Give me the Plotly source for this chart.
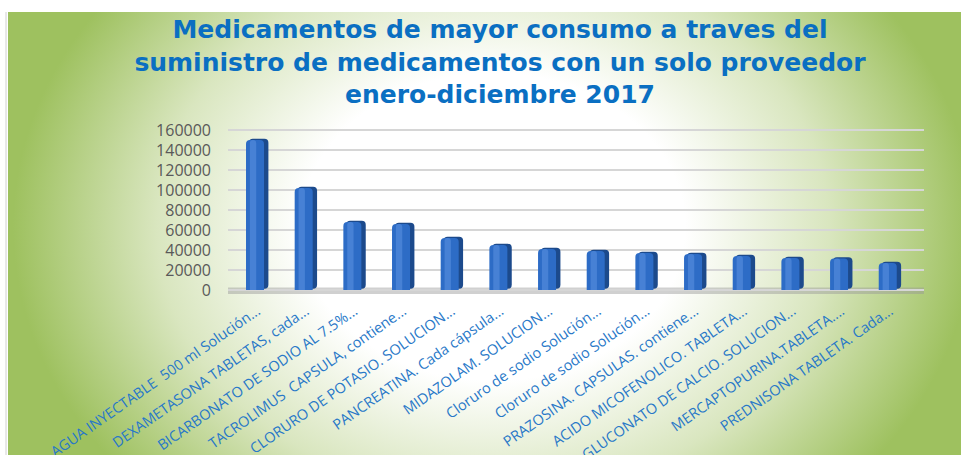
import base64
import plotly.graph_objects as go

# Consumption of the top medicines (single supplier), Jan-Dec 2017
labels = [
    "AGUA INYECTABLE  500 ml Solución...",
    "DEXAMETASONA TABLETAS, cada...",
    "BICARBONATO DE SODIO AL 7.5%...",
    "TACROLIMUS  CAPSULA, contiene...",
    "CLORURO DE POTASIO. SOLUCION...",
    "PANCREATINA. Cada cápsula...",
    "MIDAZOLAM. SOLUCION...",
    "Cloruro de sodio Solución...",
    "Cloruro de sodio Solución...",
    "PRAZOSINA. CAPSULAS. contiene...",
    "ACIDO MICOFENOLICO. TABLETA...",
    "GLUCONATO DE CALCIO. SOLUCION...",
    "MERCAPTOPURINA.TABLETA....",
    "PREDNISONA TABLETA. Cada...",
]
consumo = [150000, 102000, 68000, 66000, 52000, 45000, 41000,
           39000, 37000, 36000, 34000, 32000, 31500, 27000]
y_ticks = [0, 20000, 40000, 60000, 80000, 100000, 120000, 140000, 160000]
y_tick_text = [str(v) for v in y_ticks]

W, H = 961, 455
L, R, T, B = 228, 37, 125, 161
positions = list(range(len(labels)))

# radial white-to-green backdrop
bg_w, bg_h = W - 8, H - 12
svg = f'''<svg xmlns="http://www.w3.org/2000/svg" width="{bg_w}" height="{bg_h}" viewBox="0 0 {bg_w} {bg_h}" preserveAspectRatio="none">
<defs><radialGradient id="g" gradientUnits="userSpaceOnUse" cx="0" cy="0" r="480"
 gradientTransform="translate(485,215) scale(1,0.8)">
<stop offset="0" stop-color="#ffffff"/><stop offset="0.4" stop-color="#ffffff"/>
<stop offset="0.7" stop-color="#d9e6bf"/><stop offset="1" stop-color="#9ec15f"/>
</radialGradient></defs>
<rect width="{bg_w}" height="{bg_h}" fill="url(#g)"/></svg>'''
bg_src = "data:image/svg+xml;base64," + base64.b64encode(svg.encode()).decode()

pw, ph = W - L - R, H - T - B

fig = go.Figure()
# darker right-hand face of each column
fig.add_trace(go.Bar(
    x=positions, y=consumo, base=1200, offset=-0.17, width=0.40,
    marker=dict(color="#1c4a8c", cornerradius=4, line=dict(width=0)),
    hoverinfo="skip", showlegend=False,
))
# front face
fig.add_trace(go.Bar(
    x=positions, y=consumo, offset=-0.23, width=0.37,
    marker=dict(color="#2d6cc6", cornerradius=4, line=dict(width=0)),
    showlegend=False,
))
# soft highlight on the front face
fig.add_trace(go.Bar(
    x=positions, y=consumo, offset=-0.15, width=0.13,
    marker=dict(color="rgba(120,170,240,0.35)", cornerradius=3, line=dict(width=0)),
    hoverinfo="skip", showlegend=False,
))

fig.update_layout(
    width=W, height=H,
    margin=dict(l=L, r=R, t=T, b=B, pad=0, autoexpand=False),
    barmode="overlay",
    paper_bgcolor="white",
    plot_bgcolor="rgba(0,0,0,0)",
    font=dict(family="Open Sans", color="#595959"),
    title=dict(
        text="Medicamentos de mayor consumo a traves del<br>"
             "suministro de medicamentos con un solo proveedor<br>"
             "enero-diciembre 2017",
        font=dict(family="DejaVu Sans", size=25, color="#0a6fc2", weight=700),
        x=500 / W, xanchor="center", xref="container",
        y=1 - 38 / H, yanchor="top", yref="container",
    ),
    xaxis=dict(
        range=[-0.6, 13.7], automargin=False,
        tickmode="array", tickvals=positions, ticktext=labels,
        tickangle=-35, ticks="", showgrid=False, zeroline=False,
        showline=False, ticklabelstandoff=5,
        tickfont=dict(family="Open Sans", size=14.5, color="#2878c8"),
    ),
    yaxis=dict(
        range=[-4000, 165000], automargin=False,
        tickmode="array", tickvals=y_ticks, ticktext=y_tick_text, ticks="",
        showgrid=True, gridcolor="#d6d6d6", gridwidth=1.5,
        zeroline=False, showline=False, ticklabelstandoff=16,
        tickfont=dict(family="Open Sans", size=16, color="#595959"),
    ),
    images=[dict(
        source=bg_src, xref="paper", yref="paper",
        x=(8 - L) / pw, y=1 + (T - 12) / ph,
        sizex=(W - 8) / pw, sizey=(H - 12) / ph,
        xanchor="left", yanchor="top", sizing="stretch", layer="below",
    )],
    shapes=[
        # floor shadow beneath the columns
        dict(type="rect", xref="x", yref="y", x0=-0.6, x1=13.7, y0=-4000, y1=2500,
             fillcolor="rgba(150,150,150,0.45)", line=dict(width=0), layer="below"),
        # thin frame line on the left edge
        dict(type="line", xref="paper", yref="paper",
             x0=(6 - L) / pw, x1=(6 - L) / pw, y0=-B / ph, y1=1 + (T - 12) / ph,
             line=dict(color="#d0d0d0", width=1)),
    ],
)

fig.write_html("out.html")
